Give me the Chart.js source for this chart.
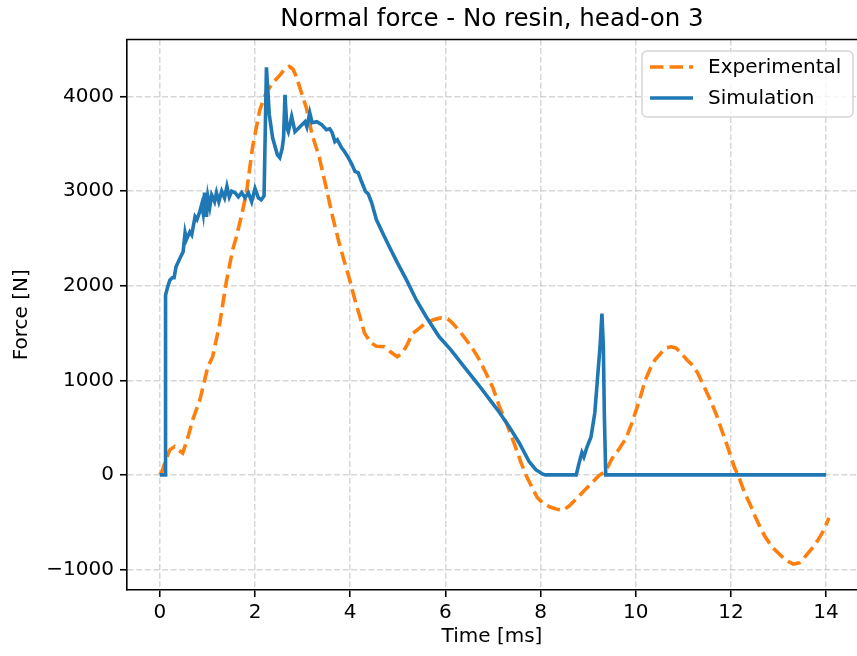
<!DOCTYPE html>
<html>
<head>
<meta charset="utf-8">
<script src="https://cdn.jsdelivr.net/npm/chart.js@4.4.1/dist/chart.umd.min.js"></script>
<style>
  body { margin: 0; background: #fff; overflow: hidden; }
  canvas { display: block; }
</style>
</head>
<body>
<canvas id="grafica" width="857" height="656"></canvas>
<script>
// datos
var expTime = [0, 0.04, 0.12, 0.21, 0.31, 0.4, 0.48, 0.58, 0.69, 0.84, 1.01, 1.11, 1.26, 1.4, 1.53, 1.61, 1.72, 1.82, 1.95, 2.1,
  2.24, 2.38, 2.51, 2.62, 2.72, 2.8, 2.87, 2.97, 3.08, 3.2, 3.35, 3.5, 3.63, 3.77, 3.88, 3.98, 4.1, 4.2, 4.3, 4.44,
  4.55, 4.72, 4.85, 4.99, 5.1, 5.2, 5.3, 5.45, 5.6, 5.75, 5.91, 6.05, 6.14, 6.3, 6.45, 6.56, 6.7, 6.85, 7.0, 7.13,
  7.29, 7.44, 7.59, 7.71, 7.82, 7.93, 8.05, 8.2, 8.35, 8.47, 8.6, 8.76, 8.93, 9.1, 9.22, 9.37, 9.5, 9.64, 9.8, 9.92,
  10.06, 10.2, 10.31, 10.41, 10.55, 10.65, 10.75, 10.85, 10.95, 11.07, 11.17, 11.3, 11.42, 11.57, 11.7, 11.82, 11.95, 12.07, 12.18, 12.28,
  12.41, 12.51, 12.62, 12.72, 12.86, 13.0, 13.15, 13.31, 13.44, 13.56, 13.7, 13.83, 13.96, 14.06];
var expForce = [0, 30, 150, 265, 300, 260, 230, 380, 580, 790, 1145, 1250, 1605, 2050, 2380, 2520, 2750, 2985, 3470, 3860,
  4050, 4150, 4220, 4290, 4320, 4290, 4210, 4050, 3880, 3600, 3360, 3030, 2730, 2450, 2250, 2080, 1850, 1680, 1500, 1395,
  1360, 1355, 1300, 1250, 1290, 1380, 1490, 1550, 1610, 1640, 1660, 1650, 1610, 1520, 1420, 1345, 1230, 1080, 920, 730,
  540, 340, 130, -20, -130, -240, -300, -340, -365, -375, -330, -250, -160, -75, -10, 40, 170, 265, 390, 550,
  760, 1000, 1130, 1220, 1300, 1345, 1355, 1340, 1290, 1220, 1170, 1080, 950, 790, 630, 455, 270, 85, -40, -180,
  -320, -440, -560, -655, -760, -830, -900, -945, -930, -865, -780, -690, -580, -455];

var simTime = [0, 0.11, 0.12, 0.16, 0.21, 0.26, 0.3, 0.34, 0.43, 0.49, 0.53, 0.56, 0.63, 0.67, 0.74, 0.78, 0.84, 0.88, 0.91, 0.94,
  0.98, 1.01, 1.05, 1.09, 1.15, 1.19, 1.24, 1.3, 1.36, 1.41, 1.46, 1.51, 1.58, 1.65, 1.72, 1.79, 1.86, 1.93, 2.0, 2.07,
  2.13, 2.19, 2.24, 2.3, 2.37, 2.47, 2.52, 2.57, 2.6, 2.63, 2.67, 2.7, 2.77, 2.84, 2.94, 3.05, 3.09, 3.15, 3.2, 3.3,
  3.4, 3.5, 3.57, 3.62, 3.68, 3.73, 3.82, 3.88, 3.96, 4.04, 4.1, 4.17, 4.24, 4.32, 4.38, 4.45, 4.55, 4.68, 4.82, 4.99,
  5.18, 5.39, 5.6, 5.87, 6.12, 6.4, 6.7, 7.0, 7.13, 7.34, 7.55, 7.76, 7.9, 8.04, 8.1, 8.75, 8.81, 8.87, 8.91, 8.98,
  9.06, 9.14, 9.2, 9.25, 9.29, 9.32, 9.34, 9.37, 14.0];
var simForce = [0, 0, 1900, 1980, 2060, 2085, 2085, 2200, 2300, 2360, 2560, 2490, 2570, 2540, 2730, 2700, 2785, 2860, 2770, 2985,
  2730, 2940, 2835, 2960, 2890, 2985, 2890, 3000, 2930, 3050, 2940, 3000, 2985, 2940, 2985, 2930, 2985, 2890, 3030, 2930,
  2910, 2950, 4310, 3810, 3565, 3385, 3355, 3450, 3565, 4020, 3670, 3630, 3790, 3630, 3680, 3735, 3680, 3830, 3725, 3735,
  3705, 3650, 3660, 3620, 3525, 3545, 3460, 3420, 3355, 3280, 3210, 3195, 3100, 3000, 2970, 2880, 2700, 2560, 2415, 2245,
  2065, 1850, 1670, 1460, 1320, 1140, 950, 750, 665, 510, 340, 140, 55, 10, 0, 0, 125, 235, 190, 300,
  400, 655, 1040, 1355, 1705, 1355, 655, 0, 0];

var xTicks = [0, 2, 4, 6, 8, 10, 12, 14];
var yTicks = [-1000, 0, 1000, 2000, 3000, 4000];

function juntar(tx, fy) {
  var puntos = [];
  for (let i = 0; i < tx.length; i++) {
    puntos.push({ x: tx[i], y: fy[i] });
  }
  return puntos;
}

function signo(v) {
  return v < 0 ? '\u2212' + Math.abs(v) : String(v);
}

var fuente = 'DejaVu Sans';
var azul = '#1f77b4';
var naranja = '#ff7f0e';
var grosor = 3.6;

// marco de arriba y leyenda al estilo matplotlib
var extras = {
  id: 'extras',
  afterDraw: function (chart) {
    var ctx = chart.ctx;
    var a = chart.chartArea;
    ctx.save();
    ctx.strokeStyle = '#000';
    ctx.lineWidth = 1.6;
    ctx.beginPath();
    ctx.moveTo(a.left - 0.8, a.top);
    ctx.lineTo(a.right, a.top);
    ctx.stroke();

    // caja de la leyenda
    var bx = 642, by = 51, bw = 211, bh = 66, r = 5;
    ctx.beginPath();
    ctx.moveTo(bx + r, by);
    ctx.arcTo(bx + bw, by, bx + bw, by + bh, r);
    ctx.arcTo(bx + bw, by + bh, bx, by + bh, r);
    ctx.arcTo(bx, by + bh, bx, by, r);
    ctx.arcTo(bx, by, bx + bw, by, r);
    ctx.closePath();
    ctx.fillStyle = 'rgba(255,255,255,0.8)';
    ctx.fill();
    ctx.strokeStyle = '#d5d5d5';
    ctx.lineWidth = 1.5;
    ctx.stroke();

    var ds = chart.data.datasets;
    var filas = [67, 98];
    for (let i = 0; i < ds.length; i++) {
      ctx.strokeStyle = ds[i].borderColor;
      ctx.lineWidth = grosor;
      ctx.setLineDash(ds[i].borderDash || []);
      ctx.beginPath();
      ctx.moveTo(650, filas[i]);
      ctx.lineTo(693, filas[i]);
      ctx.stroke();
      ctx.setLineDash([]);
      ctx.fillStyle = '#000';
      ctx.font = '20px ' + fuente;
      ctx.textBaseline = 'middle';
      ctx.fillText(ds[i].label, 708, filas[i] + 1);
    }
    ctx.restore();
  }
};

var ctx = document.getElementById('grafica').getContext('2d');
var chart = new Chart(ctx, {
  type: 'line',
  plugins: [extras],
  data: {
    datasets: [
      {
        label: 'Experimental',
        data: juntar(expTime, expForce),
        borderColor: naranja,
        borderWidth: grosor,
        borderDash: [13.5, 6],
        pointRadius: 0,
        tension: 0,
        fill: false,
        order: 1
      },
      {
        label: 'Simulation',
        data: juntar(simTime, simForce),
        borderColor: azul,
        borderWidth: grosor,
        pointRadius: 0,
        tension: 0,
        fill: false,
        order: 0
      }
    ]
  },
  options: {
    responsive: false,
    animation: false,
    devicePixelRatio: 1,
    layout: { padding: { left: 0, right: 0, top: 0, bottom: 0 } },
    plugins: {
      legend: { display: false },
      tooltip: { enabled: false },
      title: {
        display: true,
        text: 'Normal force - No resin, head-on 3',
        color: '#000',
        fullSize: false,
        font: { family: fuente, size: 24.5, weight: 'normal' },
        padding: { top: 5.3, bottom: 4.8 }
      }
    },
    scales: {
      x: {
        type: 'linear',
        min: -0.69,
        max: 14.65,
        afterBuildTicks: function (scale) {
          scale.ticks = xTicks.map(v => ({ value: v }));
        },
        afterFit: function (scale) {
          scale.height = 66;
        },
        ticks: {
          color: '#000',
          font: { family: fuente, size: 20 },
          padding: 4,
          maxRotation: 0,
          callback: signo
        },
        grid: {
          color: 'rgba(176,176,176,0.5)',
          lineWidth: 1.5,
          tickColor: '#000',
          tickLength: 7,
          tickWidth: 1.6,
          tickBorderDash: [0, 0]
        },
        border: { color: '#000', width: 1.6, dash: [6, 2.6] },
        title: {
          display: true,
          text: 'Time [ms]',
          color: '#000',
          font: { family: fuente, size: 20 },
          padding: { top: 0, bottom: 7 }
        }
      },
      y: {
        type: 'linear',
        min: -1218,
        max: 4605,
        afterBuildTicks: function (scale) {
          scale.ticks = yTicks.map(v => ({ value: v }));
        },
        afterFit: function (scale) {
          scale.width = 127;
        },
        ticks: {
          color: '#000',
          font: { family: fuente, size: 20 },
          padding: 6,
          callback: signo
        },
        grid: {
          color: 'rgba(176,176,176,0.5)',
          lineWidth: 1.5,
          tickColor: '#000',
          tickLength: 7,
          tickWidth: 1.6,
          tickBorderDash: [0, 0]
        },
        border: { color: '#000', width: 1.6, dash: [6, 2.6] },
        title: {
          display: true,
          text: 'Force [N]',
          color: '#000',
          font: { family: fuente, size: 20 },
          padding: { top: 10, bottom: 0 }
        }
      }
    }
  }
});
</script>
</body>
</html>
